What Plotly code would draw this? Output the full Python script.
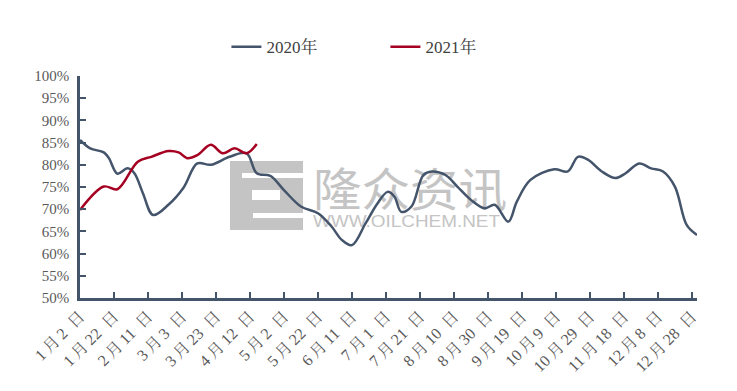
import base64
import plotly.graph_objects as go

# ---------------- data ----------------
dates_2020 = ["01-02", "01-08", "01-16", "01-19", "01-24", "01-30", "02-03", "02-08", "02-14",
              "02-23", "03-04", "03-12", "03-20", "03-31", "04-10", "04-16", "04-24", "05-02",
              "05-12", "05-22", "05-30", "06-05", "06-11", "06-19", "06-26", "07-02", "07-06",
              "07-10", "07-16", "07-23", "07-28", "08-05", "08-12", "08-20", "08-28", "09-03",
              "09-11", "09-16", "09-24", "10-08", "10-16", "10-22", "10-28", "11-05", "11-13",
              "11-19", "11-27", "12-04", "12-11", "12-18", "12-25", "12-31"]
values_2020 = [85.6, 83.7, 82.8, 81.5, 78.0, 79.2, 78.1, 73.6, 68.7,
               71.0, 74.9, 80.3, 80.0, 81.8, 82.6, 78.1, 77.5, 74.3,
               70.6, 69.1, 66.1, 63.1, 61.9, 66.8, 71.3, 73.9, 72.8,
               69.4, 70.6, 77.7, 78.5, 77.7, 75.1, 72.1, 70.2, 71.0,
               67.2, 71.7, 76.6, 79.0, 78.5, 81.8, 81.1, 78.5, 77.0,
               78.1, 80.3, 79.2, 78.5, 75.1, 66.4, 64.2]

dates_2021 = ["01-02", "01-16", "01-24", "02-05", "02-13", "02-23", "03-01", "03-06",
              "03-12", "03-20", "03-27", "04-03", "04-10", "04-16"]
values_2021 = [69.8, 75.1, 74.5, 80.7, 81.8, 83.1, 82.8, 81.5,
               82.2, 84.5, 82.6, 83.7, 82.6, 84.7]

tick_dates = ["01-02", "01-22", "02-11", "03-03", "03-23", "04-12", "05-02", "05-22", "06-11",
              "07-01", "07-21", "08-10", "08-30", "09-19", "10-09", "10-29", "11-18", "12-08",
              "12-28"]
tick_labels = ["1月2日", "1月22日", "2月11日", "3月3日", "3月23日", "4月12日", "5月2日",
               "5月22日", "6月11日", "7月1日", "7月21日", "8月10日", "8月30日", "9月19日",
               "10月9日", "10月29日", "11月18日", "12月8日", "12月28日"]

series_names = ["2020年", "2021年"]
series_colors = ["#44546A", "#A50021"]

AXIS_YEAR = "2021"  # common month-day axis


def to_axis(md_list):
    return [f"{AXIS_YEAR}-{md}" for md in md_list]


def spaced(label):
    # mimic the wide CJK/latin spacing of the original labels
    return label.replace("月", "\u2009月\u2009").replace("日", "\u2002日")


FONT = "Liberation Serif, 'Times New Roman', 'Noto Serif CJK SC', 'Noto Sans CJK SC', serif"

fig = go.Figure()
for name, xs, ys, col in [(series_names[0], dates_2020, values_2020, series_colors[0]),
                          (series_names[1], dates_2021, values_2021, series_colors[1])]:
    fig.add_trace(go.Scatter(
        x=to_axis(xs), y=ys, name=name, mode="lines",
        line=dict(color=col, width=2.5, shape="spline", smoothing=1.0),
    ))

# watermark as an svg image below the traces
svg = """<svg xmlns='http://www.w3.org/2000/svg' width='277' height='70' viewBox='0 0 277 70'>
<rect x='0' y='1' width='73' height='69' fill='#c4c4c4'/>
<rect x='12' y='13' width='61' height='5' fill='#ffffff'/>
<rect x='22' y='30' width='28' height='10' fill='#ffffff'/>
<rect x='23' y='53' width='50' height='5' fill='#ffffff'/>
<text x='83' y='46' font-family='Noto Sans CJK SC' font-size='46' fill='#c4c4c4'
 textLength='194' lengthAdjust='spacingAndGlyphs'>隆众资讯</text>
<text x='83' y='67' font-family='Liberation Sans, Arial' font-size='16' fill='#c4c4c4'
 textLength='187' lengthAdjust='spacingAndGlyphs'>WWW.OILCHEM.NET</text>
</svg>"""
svg_uri = "data:image/svg+xml;base64," + base64.b64encode(svg.encode("utf-8")).decode()

fig.add_layout_image(dict(
    source=svg_uri, xref="paper", yref="paper",
    x=(230 - 80) / 617, y=(298 - 160) / 222,
    sizex=277 / 617, sizey=70 / 222,
    xanchor="left", yanchor="top", sizing="stretch", layer="below",
))

fig.update_layout(
    width=737, height=391,
    margin=dict(l=80, r=40, t=76, b=93),
    paper_bgcolor="white", plot_bgcolor="white",
    font=dict(family=FONT, color="#595959"),
    showlegend=True,
    legend=dict(orientation="h", x=0.495, xanchor="center", y=1.13, yanchor="middle",
                font=dict(size=17, color="#404040", family=FONT),
                entrywidth=114, bgcolor="rgba(0,0,0,0)"),
)

fig.update_xaxes(
    type="date", range=[f"{AXIS_YEAR}-01-02", f"{AXIS_YEAR}-12-31"],
    tickvals=to_axis(tick_dates), ticktext=[spaced(t) for t in tick_labels], tickangle=-45,
    tickfont=dict(size=16, color="#595959"),
    showline=True, linecolor="#44546A", linewidth=2.5,
    ticks="inside", ticklen=6, tickwidth=2, tickcolor="#44546A",
    showgrid=False, zeroline=False, automargin=False,
)
fig.update_yaxes(
    range=[50, 100], dtick=5, tick0=50, ticksuffix="%",
    tickfont=dict(size=15, color="#595959"),
    showline=True, linecolor="#44546A", linewidth=2.5,
    ticks="inside", ticklen=6, tickwidth=2, tickcolor="#44546A",
    ticklabelstandoff=5,
    showgrid=False, zeroline=False, automargin=False,
)

fig.write_html("out.html", config={"displayModeBar": False},
               post_script="document.body.style.margin='0';")
